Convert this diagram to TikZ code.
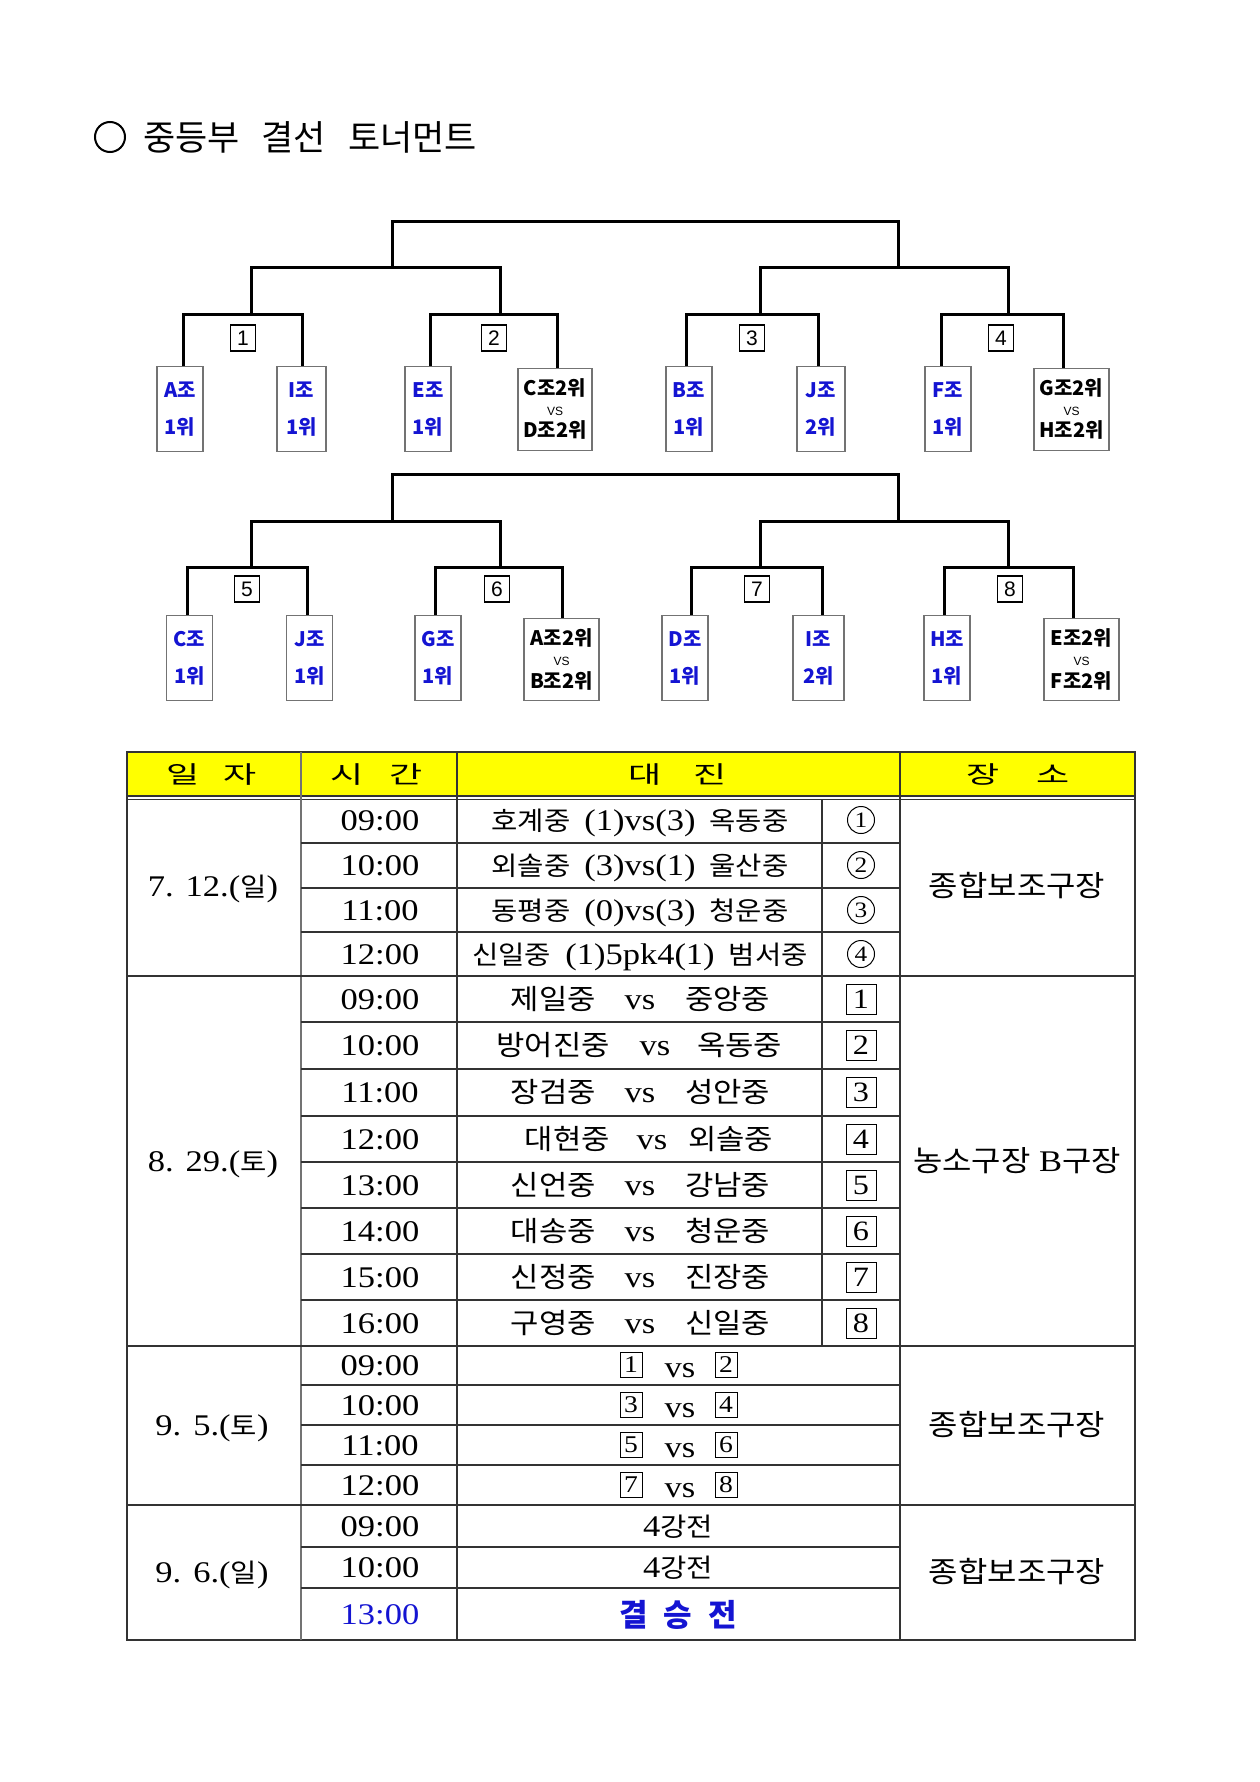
\documentclass[tikz,border=0pt]{standalone}
\usepackage{fontspec}
\setmainfont{Liberation Serif}
\newfontfamily\kr{Noto Sans CJK KR}
\newfontfamily\krs{Noto Sans CJK KR}[FakeStretch=1.1]
\newfontfamily\krw{Noto Sans CJK KR}[FakeStretch=1.5]
\newfontfamily\tn{Liberation Serif}[FakeStretch=1.15]
\newfontfamily\ar{Liberation Sans}
\definecolor{tb}{RGB}{20,20,210}
\definecolor{hy}{RGB}{255,255,0}
\newcommand{\myfs}[1]{\fontsize{#1}{#1}\selectfont}
\newcommand{\K}[1]{{\krs\myfs{26}#1}}
\newcommand{\KK}[1]{{\krs\myfs{28}#1}}
\newcommand{\KV}[1]{{\krs\myfs{29}#1}}
\tikzset{
  br/.style={line width=3pt, line join=miter},
  team/.style={draw=black!55, line width=1.2pt, minimum width=46pt, minimum height=85pt, inner sep=0pt, anchor=north, text=tb, align=center, font=\kr\bfseries\fontsize{20}{37}\selectfont},
  vsbox/.style={draw=black!55, line width=1.2pt, minimum width=75pt, minimum height=82pt, inner sep=0pt, anchor=north},
  lab/.style={font=\kr\bfseries\myfs{20}, inner sep=0pt},
  vst/.style={font=\ar\myfs{12}, inner sep=0pt},
  mno/.style={draw, line width=1.2pt, minimum width=25pt, minimum height=26pt, inner sep=0pt, font=\ar\myfs{21}},
  tl/.style={line width=1.2pt, draw=black!80},
  tx/.style={font=\tn\myfs{30}, anchor=base, inner sep=0pt},
  hd/.style={font=\krw\myfs{24}, anchor=base, inner sep=0pt},
  bx/.style={draw, line width=1pt, minimum width=30pt, minimum height=30pt, inner sep=0pt, font=\tn\myfs{28}},
  sbx/.style={draw, line width=1pt, minimum width=22pt, minimum height=25pt, inner sep=0pt, font=\tn\myfs{24}},
  cn/.style={circle, draw, line width=1pt, minimum size=27pt, inner sep=0pt, font=\tn\myfs{22}},
}
\begin{document}
\begin{tikzpicture}[x=1pt,y=-1pt]
\useasboundingbox (0,0) rectangle (1260,1782);
\fill[white] (0,0) rectangle (1260,1782);

% title
\node[circle, draw, line width=2pt, minimum size=30pt, inner sep=0pt] (tc) at (110,137) {};
\node[anchor=west, font=\kr\myfs{35}, inner sep=0pt] (title) at (143,137) {중등부\hspace{22pt}결선\hspace{22pt}토너먼트};

% ---------- upper bracket ----------
\node[team] (A1) at (180,366) {A조\\1위};
\node[team, minimum width=49pt] (I1) at (301.5,366) {I조\\1위};
\node[team] (E1) at (428,366) {E조\\1위};
\node[vsbox, minimum width=74pt] (CD) at (555,368) {};
\node[lab] (CDa) at (555,388) {C조2위};
\node[vst] (CDv) at (555,411) {VS};
\node[lab] (CDb) at (555,430) {D조2위};
\node[team] (B1) at (689,366) {B조\\1위};
\node[team, minimum width=48pt] (J2) at (821,366) {J조\\2위};
\node[team] (F1) at (948,366) {F조\\1위};
\node[vsbox] (GH) at (1071.5,368) {};
\node[lab] (GHa) at (1071.5,388) {G조2위};
\node[vst] (GHv) at (1071.5,411) {VS};
\node[lab] (GHb) at (1071.5,430) {H조2위};

\coordinate (p1) at (251,314);
\coordinate (p2) at (500,314);
\coordinate (p3) at (760,314);
\coordinate (p4) at (1008,314);
\coordinate (q1) at (392,267);
\coordinate (q2) at (898,267);
\coordinate (r1) at (645,221);

\draw[br] ([xshift=3pt]A1.north) |- (p1) -| ([xshift=0.5pt]I1.north);
\draw[br] ([xshift=2pt]E1.north) |- (p2) -| ([xshift=2pt]CD.north);
\draw[br] ([xshift=-3pt]B1.north) |- (p3) -| ([xshift=-3pt]J2.north);
\draw[br] ([xshift=-7pt]F1.north) |- (p4) -| ([xshift=-8.5pt]GH.north);
\draw[br] (p1) |- (q1) -| (p2);
\draw[br] (p3) |- (q2) -| (p4);
\draw[br] (q1) |- (r1) -| (q2);

\node[mno] (n1) at (243,338) {1};
\node[mno] (n2) at (494,338) {2};
\node[mno] (n3) at (752,338) {3};
\node[mno] (n4) at (1001,338) {4};

% ---------- lower bracket ----------
\node[team] (C1) at (189.5,615) {C조\\1위};
\node[team] (Jb1) at (309.5,615) {J조\\1위};
\node[team] (G1) at (438,615) {G조\\1위};
\node[vsbox] (AB) at (561.5,618) {};
\node[lab] (ABa) at (561.5,638) {A조2위};
\node[vst] (ABv) at (561.5,661) {VS};
\node[lab] (ABb) at (561.5,681) {B조2위};
\node[team] (D1) at (685,615) {D조\\1위};
\node[team, minimum width=51pt] (Ib2) at (818.5,615) {I조\\2위};
\node[team] (H1) at (947,615) {H조\\1위};
\node[vsbox] (EF) at (1081.5,618) {};
\node[lab] (EFa) at (1081.5,638) {E조2위};
\node[vst] (EFv) at (1081.5,661) {VS};
\node[lab] (EFb) at (1081.5,681) {F조2위};

\coordinate (p5) at (251,567);
\coordinate (p6) at (500,567);
\coordinate (p7) at (760,567);
\coordinate (p8) at (1008,567);
\coordinate (q3) at (392,521);
\coordinate (q4) at (898,521);
\coordinate (r2) at (645,474);

\draw[br] ([xshift=-2.5pt]C1.north) |- (p5) -| ([xshift=-2.5pt]Jb1.north);
\draw[br] ([xshift=-3pt]G1.north) |- (p6) -| ([xshift=0.5pt]AB.north);
\draw[br] ([xshift=6pt]D1.north) |- (p7) -| ([xshift=3.5pt]Ib2.north);
\draw[br] ([xshift=-3pt]H1.north) |- (p8) -| ([xshift=-8.5pt]EF.north);
\draw[br] (p5) |- (q3) -| (p6);
\draw[br] (p7) |- (q4) -| (p8);
\draw[br] (q3) |- (r2) -| (q4);

\node[mno] (n5) at (247,589) {5};
\node[mno] (n6) at (497,589) {6};
\node[mno] (n7) at (757,589) {7};
\node[mno] (n8) at (1010,589) {8};

% ---------- table ----------
\fill[hy] (127,752) rectangle (1135,797);
\draw[tl] (127,752) rectangle (1135,1640);
\draw[tl] (127,796) -- (1135,796);
\draw[tl] (127,799.5) -- (1135,799.5);
\draw[tl, draw=black!55] (301,752) -- (301,1640);
\draw[tl] (457,752) -- (457,1640);
\draw[tl] (900,752) -- (900,1640);
\draw[tl] (822,799.5) -- (822,1346);
\foreach \yy in {976,1346,1505} \draw[tl] (127,\yy) -- (1135,\yy);
\foreach \yy in {843,888,932,1022,1069,1116,1162,1208,1254,1300,1385,1425,1465,1547,1588}
  \draw[tl] (301,\yy) -- (900,\yy);

% header
\node[hd] (h1) at (212,783) {일\hspace{24pt}자};
\node[hd] (h2) at (377,783) {시\hspace{26pt}간};
\node[hd] (h3) at (678,783) {대\hspace{32pt}진};
\node[hd] (h4) at (1018,783) {장\hspace{36pt}소};

% dates
\node[tx] (d1) at (213,896) {7.\hspace{12pt}12.(\K{일})};
\node[tx] (d2) at (213,1171) {8.\hspace{12pt}29.(\K{토})};
\node[tx] (d3) at (212,1435) {9.\hspace{12pt}5.(\K{토})};
\node[tx] (d4) at (212,1582) {9.\hspace{12pt}6.(\K{일})};

% venues
\node[tx] (v1) at (1017,896) {\KV{종합보조구장}};
\node[tx] (v2) at (1017,1171) {\KV{농소구장} B\KV{구장}};
\node[tx] (v3) at (1017,1435) {\KV{종합보조구장}};
\node[tx] (v4) at (1017,1582) {\KV{종합보조구장}};

% 7.12 rows
\node[tx] (t1) at (380,830) {09:00};
\node[tx] (t2) at (380,875) {10:00};
\node[tx] (t3) at (380,920) {11:00};
\node[tx] (t4) at (380,964) {12:00};
\node[tx] (m1) at (640,830) {\K{호계중}\hspace{14pt}(1)vs(3)\hspace{14pt}\K{옥동중}};
\node[tx] (m2) at (640,875) {\K{외솔중}\hspace{14pt}(3)vs(1)\hspace{14pt}\K{울산중}};
\node[tx] (m3) at (640,920) {\K{동평중}\hspace{14pt}(0)vs(3)\hspace{14pt}\K{청운중}};
\node[tx] (m4) at (640,964) {\K{신일중}\hspace{14pt}(1)5pk4(1)\hspace{14pt}\K{범서중}};
\node[cn] (c1) at (861,820) {1};
\node[cn] (c2) at (861,865) {2};
\node[cn] (c3) at (861,910) {3};
\node[cn] (c4) at (861,954) {4};

% 8.29 rows
\foreach \yy/\tt/\aa/\bb/\nn in {999/09:00/제일중/중앙중/1, 1092/11:00/장검중/성안중/3, 1185/13:00/신언중/강남중/5, 1231/14:00/대송중/청운중/6, 1277/15:00/신정중/진장중/7, 1323/16:00/구영중/신일중/8}{
  \node[tx] (s\nn) at (380,\yy+10) {\tt};
  \node[tx, anchor=base east] (sa\nn) at (596,\yy+10) {\KK{\aa}};
  \node[tx] (sv\nn) at (640,\yy+10) {vs};
  \node[tx, anchor=base west] (sb\nn) at (685,\yy+10) {\KK{\bb}};
  \node[bx] (sq\nn) at (861,\yy) {\nn};
}
\node[tx] (s2) at (380,1055) {10:00};
\node[tx, anchor=base east] (sa2) at (610,1055) {\KK{방어진중}};
\node[tx] (sv2) at (655,1055) {vs};
\node[tx, anchor=base west] (sb2) at (697,1055) {\KK{옥동중}};
\node[bx] (sq2) at (861,1045) {2};
\node[tx] (s4) at (380,1149) {12:00};
\node[tx, anchor=base east] (sa4) at (610,1149) {\KK{대현중}};
\node[tx] (sv4) at (652,1149) {vs};
\node[tx, anchor=base west] (sb4) at (688,1149) {\KK{외솔중}};
\node[bx] (sq4) at (861,1139) {4};

% 9.5 rows
\foreach \yy/\tt/\aa/\bb in {1365/09:00/1/2, 1405/10:00/3/4, 1445/11:00/5/6, 1485/12:00/7/8}{
  \node[tx] (u\aa) at (380,\yy+10) {\tt};
  \node[sbx] (ua\aa) at (631,\yy) {\aa};
  \node[tx] (uv\aa) at (680,\yy+12) {vs};
  \node[sbx] (ub\aa) at (726,\yy) {\bb};
}

% 9.6 rows
\node[tx] (w1) at (380,1536) {09:00};
\node[tx] (w2) at (380,1577) {10:00};
\node[tx, text=tb] (w3) at (380,1624) {13:00};
\node[tx] (x1) at (678,1536) {4\K{강전}};
\node[tx] (x2) at (678,1577) {4\K{강전}};
\node[tx, anchor=base, text=tb, font=\kr\bfseries\myfs{31}] (x3) at (678,1626) {결\hspace{16pt}승\hspace{16pt}전};
\end{tikzpicture}
\end{document}
